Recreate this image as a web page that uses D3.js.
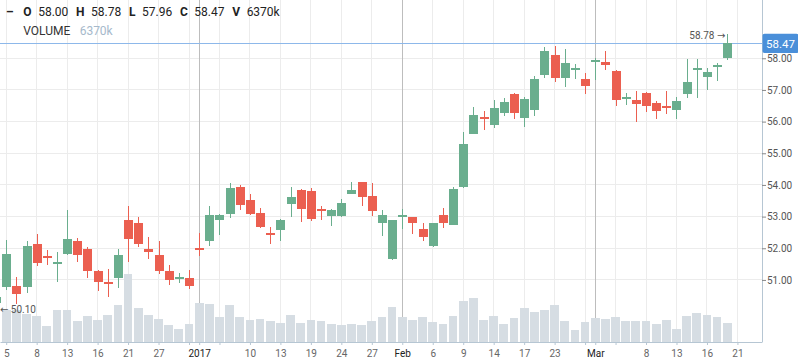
<!DOCTYPE html>
<html><head><meta charset="utf-8">
<script src="https://cdn.jsdelivr.net/npm/d3@7"></script>
<style>
html,body{margin:0;padding:0;background:#fff;}
svg{display:block;font-family:Roboto,"Liberation Sans",Arial,sans-serif;}
</style></head><body>
<svg id="chart" width="798" height="363"></svg>
<script>
// ---- data (trading days) ----
const dates = ["2016-12-02","2016-12-05","2016-12-06","2016-12-07","2016-12-08","2016-12-09","2016-12-12","2016-12-13","2016-12-14","2016-12-15","2016-12-16","2016-12-19","2016-12-20","2016-12-21","2016-12-22","2016-12-23","2016-12-27","2016-12-28","2016-12-29","2016-12-30","2017-01-03","2017-01-04","2017-01-05","2017-01-06","2017-01-09","2017-01-10","2017-01-11","2017-01-12","2017-01-13","2017-01-17","2017-01-18","2017-01-19","2017-01-20","2017-01-23","2017-01-24","2017-01-25","2017-01-26","2017-01-27","2017-01-30","2017-01-31","2017-02-01","2017-02-02","2017-02-03","2017-02-06","2017-02-07","2017-02-08","2017-02-09","2017-02-10","2017-02-13","2017-02-14","2017-02-15","2017-02-16","2017-02-17","2017-02-21","2017-02-22","2017-02-23","2017-02-24","2017-02-27","2017-02-28","2017-03-01","2017-03-02","2017-03-03","2017-03-06","2017-03-07","2017-03-08","2017-03-09","2017-03-10","2017-03-13","2017-03-14","2017-03-15","2017-03-16","2017-03-17","2017-03-20"];
const open  = [50.26,50.79,50.81,50.79,52.14,51.76,51.49,51.82,52.23,51.98,51.29,50.91,51.07,52.89,52.79,51.98,51.79,51.29,51.02,51.06,51.98,52.24,52.89,53.08,53.95,53.53,53.12,52.49,52.58,53.40,53.84,53.81,53.21,53.03,53.03,53.72,54.09,53.65,52.79,51.65,52.97,52.99,52.61,52.07,53.04,52.74,53.92,55.61,56.15,55.90,56.28,56.87,56.12,56.37,57.48,58.10,57.39,57.64,57.35,57.86,57.88,57.61,56.71,56.68,56.91,56.60,56.47,56.37,56.86,57.63,57.42,57.75,58.00];
const high  = [50.55,52.26,51.10,52.24,52.45,51.95,51.89,53.21,52.34,52.05,51.30,51.34,51.98,53.34,53.00,52.35,52.24,51.47,51.23,51.32,52.49,53.35,53.08,54.07,54.00,53.72,53.28,52.68,52.93,53.95,53.87,53.90,53.35,53.24,53.56,54.09,54.10,54.05,53.21,52.90,53.24,53.00,52.79,52.80,53.26,53.93,55.68,56.47,56.35,56.68,56.74,56.91,56.79,57.44,58.37,58.40,58.29,57.82,57.53,58.00,58.23,57.62,56.91,56.97,56.92,56.66,56.97,56.79,57.97,57.98,57.68,57.84,58.78];
const low   = [50.10,50.68,50.24,50.60,51.44,51.47,50.95,51.80,51.57,51.07,50.66,50.47,50.76,51.56,52.03,51.66,51.19,50.84,50.90,50.71,51.77,52.07,52.42,52.95,53.21,53.06,52.63,52.14,52.24,53.00,52.84,52.87,52.89,52.71,53.00,53.70,53.35,53.03,52.40,51.63,52.61,52.45,52.24,52.05,52.65,52.72,53.90,55.60,55.74,55.81,56.19,56.08,55.84,56.18,57.37,57.25,57.08,57.35,56.86,57.31,57.63,56.49,56.53,56.00,56.31,56.08,56.24,56.08,56.73,56.73,57.00,57.29,57.96];
const close = [50.47,51.82,50.56,52.07,51.55,51.69,51.54,52.29,51.79,51.29,50.93,50.85,51.79,52.29,52.14,51.89,51.29,51.00,51.06,50.81,51.95,53.05,53.05,53.91,53.37,53.08,52.66,52.41,52.89,53.61,53.24,52.93,53.19,53.21,53.42,53.84,53.63,53.19,53.05,52.89,53.02,52.81,52.37,52.80,52.81,53.86,55.29,56.21,56.08,56.43,56.62,56.28,56.71,57.35,58.23,57.39,57.84,57.66,57.13,57.91,57.80,56.68,56.75,56.55,56.50,56.35,56.41,56.65,57.24,57.65,57.57,57.77,58.47];
const volumeK = [5935,10860,10630,9290,8620,5260,10630,10630,6940,8620,7280,8950,12310,22700,11300,8950,7610,5600,4260,5930,13080,12640,8280,12310,8280,7280,7610,6940,6370,8950,6370,7280,6940,5930,5600,5930,5600,6940,8380,11740,8380,7280,8380,6710,6040,8720,13650,14750,7280,8720,6040,8050,11400,10060,10630,12410,7040,4020,6710,8050,7700,8400,7000,7000,7000,6000,7400,4500,8720,9720,9190,8380,6370];
const futureDates = ["2017-03-21"];

// ---- axes ----
const tickDates  = ["2016-12-05","2016-12-08","2016-12-13","2016-12-16","2016-12-21","2016-12-27","2016-12-30","2017-01-03","2017-01-05","2017-01-10","2017-01-13","2017-01-19","2017-01-24","2017-01-27","2017-02-01","2017-02-06","2017-02-09","2017-02-14","2017-02-17","2017-02-23","2017-02-28","2017-03-01","2017-03-03","2017-03-08","2017-03-13","2017-03-16","2017-03-21"];
const tickLabels = ["5","8","13","16","21","27","","2017","","10","13","19","24","27","Feb","6","9","14","17","23","","Mar","","8","13","16","21"];
const majorTickDates = ["2017-01-03","2017-02-01","2017-03-01"];
const priceTicks = [51,52,53,54,55,56,57,58];
const viewWindow = [0.39, 75.42];   // visible trading-day index range
const priceWindow = [49.04, 59.84]; // visible price range

// ---- drawing ----
const svg = d3.select("#chart");
const plotW = 762, plotH = 342;
const calendar = dates.concat(futureDates);
const x = d3.scaleLinear().domain(viewWindow).range([0, plotW]);
const y = d3.scaleLinear().domain(priceWindow).range([plotH, 0]);
const vol = d3.scaleLinear().domain([0, d3.max(volumeK)]).range([plotH, plotH - 0.198 * plotH]);
const step = x(1) - x(0);
const bodyW = step * 0.86;
const GREEN = "#6aae8e", RED = "#eb5f50";
const ARROWFONT = "'DejaVu Sans','Liberation Sans',sans-serif";

const candles = dates.map((d, i) => ({date: d, i, o: open[i], h: high[i], l: low[i], c: close[i], v: volumeK[i]}));
const tickIdx = tickDates.map(d => calendar.indexOf(d));
const labelOf = new Map(tickIdx.map((t, k) => [t, tickLabels[k]]));
const majorIdx = new Set(majorTickDates.map(d => calendar.indexOf(d)));

svg.append("defs").append("clipPath").attr("id", "plotclip")
  .append("rect").attr("x", 0).attr("y", 0).attr("width", plotW).attr("height", plotH);

const grid = svg.append("g").attr("shape-rendering", "crispEdges");
grid.selectAll("line.h").data(priceTicks).join("line").attr("class", "h")
  .attr("x1", 0).attr("x2", plotW).attr("y1", d => y(d)).attr("y2", d => y(d))
  .attr("stroke", "#ececec");
grid.selectAll("line.v").data(tickIdx).join("line").attr("class", "v")
  .attr("x1", d => x(d)).attr("x2", d => x(d)).attr("y1", 0).attr("y2", plotH)
  .attr("stroke", d => majorIdx.has(d) ? "#bdbdbd" : "#ececec");

const plot = svg.append("g").attr("clip-path", "url(#plotclip)");

// volume
plot.append("g").attr("shape-rendering", "crispEdges")
  .selectAll("rect").data(candles).join("rect")
  .attr("x", d => x(d.i) - bodyW / 2).attr("width", bodyW)
  .attr("y", d => vol(d.v)).attr("height", d => plotH - vol(d.v))
  .attr("fill", "#d6dde3");

// last price line
const last = candles[candles.length - 1];
plot.append("line").attr("x1", 0).attr("x2", plotW)
  .attr("y1", Math.round(y(last.c)) + 0.5).attr("y2", Math.round(y(last.c)) + 0.5)
  .attr("stroke", "#8db8ea").attr("stroke-width", 1);

// candles
const cg = plot.append("g").attr("shape-rendering", "crispEdges");
const cand = cg.selectAll("g").data(candles).join("g");
cand.append("line")
  .attr("x1", d => Math.round(x(d.i)) + 0.5).attr("x2", d => Math.round(x(d.i)) + 0.5)
  .attr("y1", d => y(d.h)).attr("y2", d => y(d.l))
  .attr("stroke", d => d.c >= d.o ? GREEN : RED).attr("stroke-width", 1.3);
cand.append("rect")
  .attr("x", d => Math.round(x(d.i)) + 0.5 - bodyW / 2).attr("width", bodyW)
  .attr("y", d => Math.min(y(d.o), y(d.c)) - (Math.abs(y(d.o) - y(d.c)) < 2 ? 1 : 0))
  .attr("height", d => Math.max(2, Math.abs(y(d.o) - y(d.c))))
  .attr("fill", d => d.c >= d.o ? GREEN : RED);

// axes
const yAxis = d3.axisRight(y).tickValues(priceTicks).tickFormat(d3.format(".2f")).tickSize(4).tickSizeOuter(0).tickPadding(1);
const ya = svg.append("g").attr("transform", `translate(${plotW},0)`).call(yAxis);
ya.select(".domain").attr("stroke", "#b6c6d3").attr("d", `M0.5,0V${plotH}`);
ya.selectAll(".tick line").attr("stroke", "#888");
ya.selectAll(".tick text").attr("fill", "#555").style("font-size", "10px").style("font-family", "Roboto,'Liberation Sans',Arial,sans-serif");

const xAxis = d3.axisBottom(x).tickValues(tickIdx).tickFormat(d => labelOf.get(d)).tickSize(3).tickSizeOuter(0).tickPadding(5);
const xa = svg.append("g").attr("transform", `translate(0,${plotH})`).call(xAxis);
xa.select(".domain").attr("stroke", "#b6c6d3");
xa.selectAll(".tick line").attr("stroke", "#b6c6d3");
xa.selectAll(".tick text").attr("fill", d => majorIdx.has(d) ? "#222" : "#666")
  .style("font-size", "10px").style("font-family", "Roboto,'Liberation Sans',Arial,sans-serif");

// price tag
const tag = svg.append("g");
tag.append("rect").attr("x", plotW + 0.5).attr("y", y(last.c) - 9.7).attr("width", 798 - plotW).attr("height", 19.4)
  .attr("rx", 2).attr("fill", "#4a8fd9");
tag.append("text").attr("x", plotW + 4).attr("y", y(last.c)).attr("dy", "0.36em")
  .attr("fill", "#fff").style("font-size", "11.5px").text(d3.format(".2f")(last.c));

// extreme labels
const maxC = candles.reduce((a, b) => b.h > a.h ? b : a);
const minC = candles.reduce((a, b) => b.l < a.l ? b : a);
const hiT = svg.append("text").attr("x", x(maxC.i) - 2).attr("y", y(maxC.h) + 1.5).attr("dy", "0.36em")
  .attr("text-anchor", "end").attr("fill", "#555").style("font-size", "10px");
hiT.append("tspan").text(d3.format(".2f")(maxC.h) + " ");
hiT.append("tspan").style("font-family", ARROWFONT).style("font-size", "10px").text("\u2192");
const loT = svg.append("text").attr("x", Math.max(0, x(minC.i))).attr("y", y(minC.l) + 1).attr("dy", "0.36em")
  .attr("fill", "#555").style("font-size", "10px");
loT.append("tspan").style("font-family", ARROWFONT).style("font-size", "10px").text("\u2190");
loT.append("tspan").text(" " + d3.format(".2f")(minC.l));

// legend
const lg = svg.append("g").style("font-size", "12px").attr("fill", "#222");
lg.append("text").attr("x", 6).attr("y", 15.5).style("font-weight", "bold").text("\u2013");
const legendItems = [["O", last.o.toFixed(2)], ["H", last.h.toFixed(2)], ["L", last.l.toFixed(2)], ["C", last.c.toFixed(2)], ["V", last.v + "k"]];
let cx = 23.3;
legendItems.forEach(([k, v]) => {
  const t1 = lg.append("text").attr("x", cx).attr("y", 15.5).style("font-weight", "bold").text(k);
  cx += t1.node().getComputedTextLength() + 6.6;
  const t2 = lg.append("text").attr("x", cx).attr("y", 15.5).text(v);
  cx += t2.node().getComputedTextLength() + 7.7;
});
const vt = lg.append("text").attr("x", 23.3).attr("y", 35).attr("fill", "#333").text("VOLUME");
lg.append("text").attr("x", 23.3 + vt.node().getComputedTextLength() + 9.3).attr("y", 35)
  .attr("fill", "#a6b9cb").text(last.v + "k");
</script>
</body></html>
